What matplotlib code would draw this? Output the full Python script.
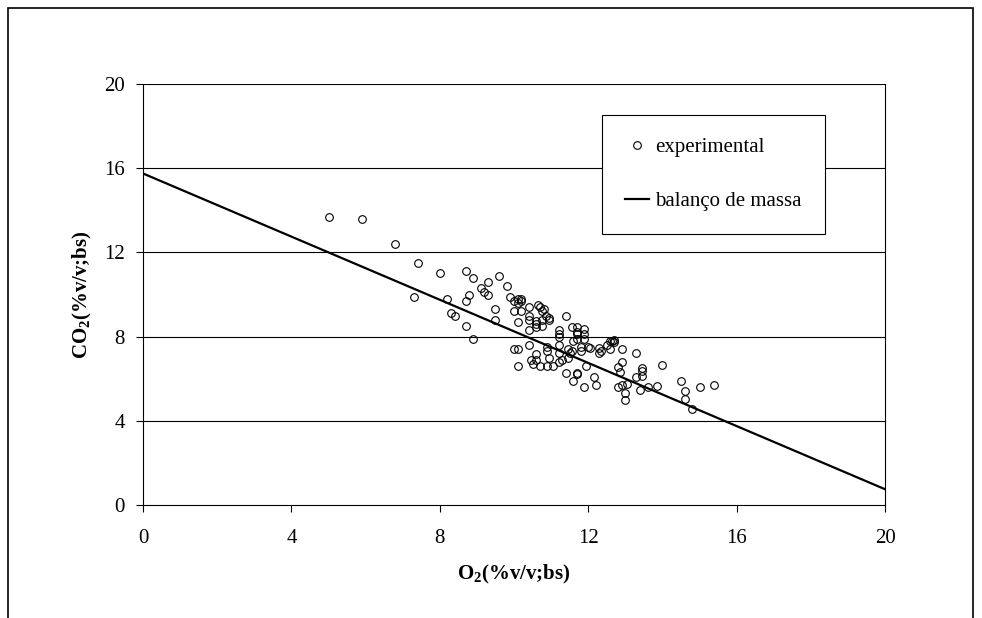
import matplotlib
matplotlib.use('Agg')
import matplotlib.pyplot as plt
from matplotlib.patches import Rectangle

plt.rcParams['font.family'] = ['Liberation Serif', 'DejaVu Serif']
plt.rcParams['mathtext.fontset'] = 'custom'
plt.rcParams['mathtext.rm'] = 'Liberation Serif'
plt.rcParams['mathtext.bf'] = 'Liberation Serif:bold'

# experimental points (O2, CO2)
o2 = [5.0, 5.9, 6.8, 7.4, 7.3, 8.0, 8.7, 8.2, 8.9, 8.8, 8.7, 8.3, 8.4, 8.7, 8.9,
      9.1, 9.2, 9.3, 9.3, 9.6, 9.5, 9.5, 9.8, 9.9, 10.0, 10.1, 10.1, 10.2, 10.2,
      10.2, 10.0, 10.1, 10.0, 10.1, 10.1, 10.4, 10.4, 10.4, 10.4, 10.4, 10.45,
      10.5, 10.6, 10.6, 10.6, 10.65, 10.7, 10.8, 10.75, 10.85, 10.95, 10.95,
      10.75, 10.75, 10.6, 10.6, 10.7, 10.9, 10.9, 10.95, 10.9, 11.05, 11.2, 11.2,
      11.2, 11.2, 11.2, 11.2, 11.3, 11.4, 11.4, 11.45, 11.45, 11.5, 11.55, 11.55,
      11.6, 11.6, 11.7, 11.7, 11.7, 11.7, 11.7, 11.7, 11.8, 11.8, 11.9, 11.9,
      11.9, 11.9, 11.95, 12.0, 12.05, 12.15, 12.2, 12.3, 12.3, 12.35, 12.5, 12.6,
      12.6, 12.65, 12.7, 12.7, 12.8, 12.85, 12.9, 12.9, 12.8, 12.9, 13.0, 13.0,
      13.05, 13.3, 13.3, 13.4, 13.45, 13.45, 13.45, 13.6, 13.85, 14.0, 14.5,
      14.6, 14.6, 14.8, 15.0, 15.4]
co2 = [13.7, 13.6, 12.4, 11.5, 9.9, 11.0, 11.1, 9.8, 10.8, 10.0, 9.7, 9.1, 9.0, 8.5, 7.9,
       10.3, 10.1, 10.0, 10.6, 10.9, 9.3, 8.8, 10.4, 9.9, 9.7, 9.6, 9.8, 9.7, 9.8,
       9.2, 9.2, 8.7, 7.4, 7.4, 6.6, 9.4, 9.0, 8.8, 8.3, 7.6, 6.9,
       6.7, 8.6, 8.45, 8.75, 9.5, 9.4, 9.3, 9.2, 9.0, 8.9, 8.8,
       8.5, 8.8, 7.15, 6.9, 6.6, 7.5, 7.3, 7.0, 6.6, 6.6, 8.3, 8.1,
       8.0, 7.6, 7.2, 6.8, 6.9, 9.0, 6.25, 7.4, 7.0, 7.2, 7.3, 8.45,
       7.8, 5.9, 8.45, 8.2, 8.1, 7.9, 6.25, 6.2, 7.5, 7.3, 8.35, 8.1,
       7.9, 5.6, 6.6, 7.5, 7.45, 6.1, 5.7, 7.45, 7.2, 7.3, 7.6, 7.8,
       7.4, 7.8, 7.75, 7.85, 6.55, 6.3, 6.8, 7.4, 5.6, 5.7, 5.3, 5.0,
       5.75, 7.2, 6.1, 5.45, 6.5, 6.35, 6.15, 5.6, 5.65, 6.65, 5.9,
       5.4, 5.05, 4.55, 5.6, 5.7]

# mass balance line
line_o2 = [0, 20]
line_co2 = [15.75, 0.75]

ticks = [0, 4, 8, 12, 16, 20]

fig = plt.figure(figsize=(9.82, 6.18), dpi=100)
ax = fig.add_axes([143/982, 1-505/618, (885-143)/982, (505-84)/618])

# outer frame of the picture
fig.patches.append(Rectangle((8/982, -0.2), (973-8)/982, 1.2-8/618, transform=fig.transFigure,
                             fill=False, edgecolor='black', linewidth=1.2, clip_on=False))

for t in ticks[1:]:
    ax.axhline(t, color='black', linewidth=0.8, zorder=1)

ax.plot(o2, co2, linestyle='none', marker='o', markersize=5.5, markerfacecolor='none',
        markeredgecolor='black', markeredgewidth=0.8, label='experimental', zorder=3)
ax.plot(line_o2, line_co2, color='black', linewidth=1.6, label='balanço de massa', zorder=2)

ax.set_xlim(0, 20)
ax.set_ylim(0, 20)
ax.set_xticks(ticks)
ax.set_yticks(ticks)
ax.tick_params(direction='out', length=5, width=0.8, labelsize=15, pad=8)
ax.tick_params(axis='x', pad=12)
ax.spines['top'].set_visible(False)
for s in ['left', 'bottom', 'right']:
    ax.spines[s].set_linewidth(0.8)

ax.set_xlabel(r'O$_\mathbf{2}$(%v/v;bs)', fontsize=15, fontweight='bold', labelpad=11)
ax.set_ylabel(r'CO$_\mathbf{2}$(%v/v;bs)', fontsize=15, fontweight='bold', labelpad=7)

leg = ax.legend(loc='upper left', bbox_to_anchor=(0.6186, 0.9264), borderaxespad=0,
                fontsize=15, frameon=True, fancybox=False, framealpha=1, edgecolor='black',
                borderpad=1.1, labelspacing=1.65, handlelength=1.15, handletextpad=0.3)
leg.get_frame().set_linewidth(0.8)
leg.set_zorder(5)

fig.savefig('out.png', dpi=100)
